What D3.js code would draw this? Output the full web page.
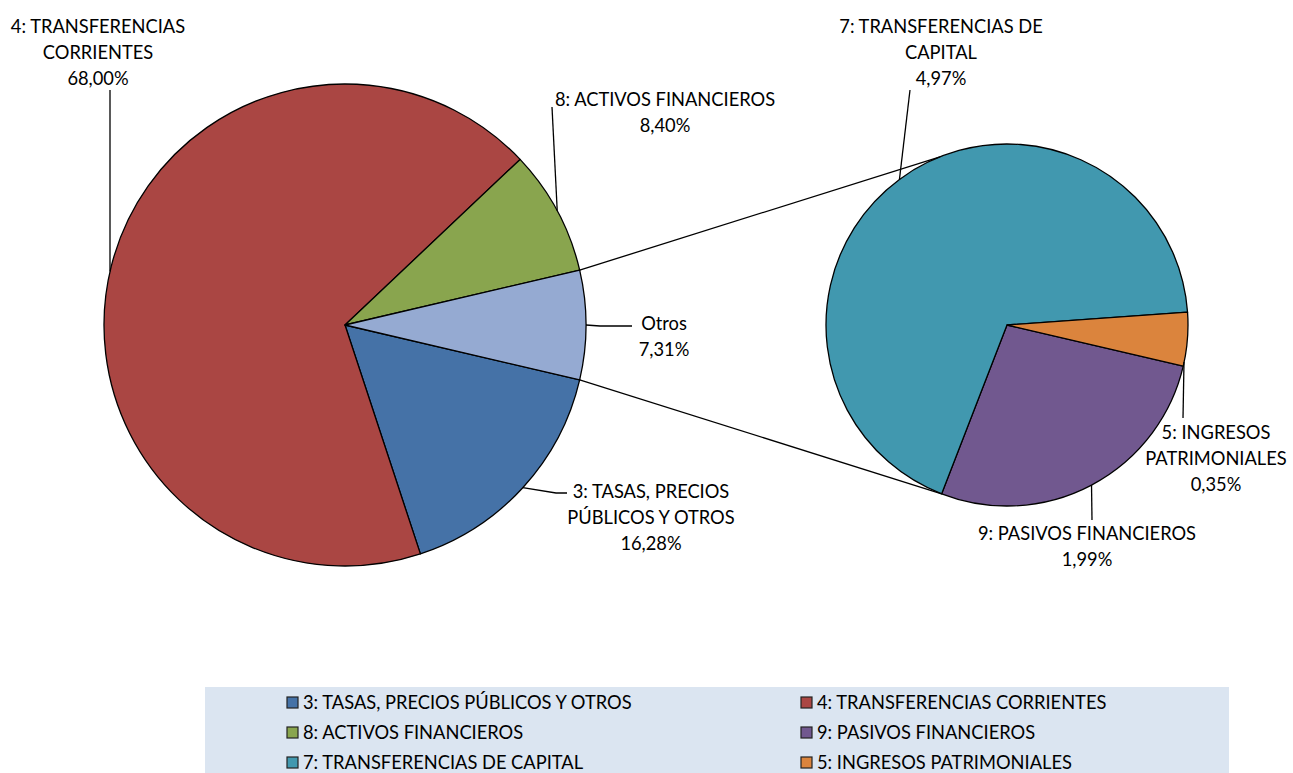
<!DOCTYPE html>
<html>
<head>
<meta charset="utf-8">
<script src="https://cdn.jsdelivr.net/npm/d3@7"></script>
<style>
  body { margin: 0; background: #fff; }
  svg { font-family: Lato, "Open Sans", sans-serif; }
</style>
</head>
<body>
<svg id="chart" width="1293" height="773"></svg>
<script>
// main pie: the last group is "Otros", broken out in the second pie
var mainNames = ["3: TASAS, PRECIOS PÚBLICOS Y OTROS", "4: TRANSFERENCIAS CORRIENTES", "8: ACTIVOS FINANCIEROS", "Otros"];
var mainValues = [16.28, 68.00, 8.40, 7.31];
var mainColors = ["#4572A7", "#AA4643", "#89A54E", "#95AAD2"];

var subNames = ["9: PASIVOS FINANCIEROS", "7: TRANSFERENCIAS DE CAPITAL", "5: INGRESOS PATRIMONIALES"];
var subValues = [1.99, 4.97, 0.35];
var subColors = ["#71588F", "#4198AF", "#DB843D"];

var legendNames = ["3: TASAS, PRECIOS PÚBLICOS Y OTROS", "4: TRANSFERENCIAS CORRIENTES", "8: ACTIVOS FINANCIEROS",
  "9: PASIVOS FINANCIEROS", "7: TRANSFERENCIAS DE CAPITAL", "5: INGRESOS PATRIMONIALES"];
var legendColors = ["#4572A7", "#AA4643", "#89A54E", "#71588F", "#4198AF", "#DB843D"];

var fmt = function (v) { return v.toFixed(2).replace(".", ",") + "%"; };

var svg = d3.select("#chart");
var fontSize = "18.3px";

var main = { cx: 345, cy: 325, r: 241 };
var sub = { cx: 1007, cy: 325, r: 181 };

var otrosShare = mainValues[3] / d3.sum(mainValues);
var startA = Math.PI / 2 + otrosShare * Math.PI;

var mainPie = d3.pie().sort(null).startAngle(startA).endAngle(startA + 2 * Math.PI);
var subPie = d3.pie().sort(null).startAngle(startA).endAngle(startA + 2 * Math.PI);

var mainArcs = mainPie(mainValues);
var subArcs = subPie(subValues);

var arcMain = d3.arc().innerRadius(0).outerRadius(main.r);
var arcSub = d3.arc().innerRadius(0).outerRadius(sub.r);

function pt(c, r, a) {
  return [c.cx + r * Math.sin(a), c.cy - r * Math.cos(a)];
}

var gMain = svg.append("g").attr("transform", "translate(" + main.cx + "," + main.cy + ")");
gMain.selectAll("path")
  .data(mainArcs)
  .enter()
  .append("path")
  .attr("d", arcMain)
  .attr("fill", function (d, i) { return mainColors[i]; })
  .attr("stroke", "#000")
  .attr("stroke-width", 1.3)
  .attr("stroke-linejoin", "round");

var gSub = svg.append("g").attr("transform", "translate(" + sub.cx + "," + sub.cy + ")");
gSub.selectAll("path")
  .data(subArcs)
  .enter()
  .append("path")
  .attr("d", arcSub)
  .attr("fill", function (d, i) { return subColors[i]; })
  .attr("stroke", "#000")
  .attr("stroke-width", 1.3)
  .attr("stroke-linejoin", "round");

// connector lines between "Otros" and the second pie
var otros = mainArcs[3];
var subEdge = subArcs[0].endAngle;
var conn = [
  [pt(main, main.r, otros.startAngle), pt(sub, sub.r, Math.PI - subEdge - 0.01)],
  [pt(main, main.r, otros.endAngle), pt(sub, sub.r, subEdge)]
];
svg.selectAll("line.conn")
  .data(conn)
  .enter()
  .append("line")
  .attr("class", "conn")
  .attr("x1", function (d) { return d[0][0]; })
  .attr("y1", function (d) { return d[0][1]; })
  .attr("x2", function (d) { return d[1][0]; })
  .attr("y2", function (d) { return d[1][1]; })
  .attr("stroke", "#000")
  .attr("stroke-width", 1.3);

// data labels: text lines, label centre, leader end point
function mid(a) { return (a.startAngle + a.endAngle) / 2; }

var labels = [
  { lines: ["4: TRANSFERENCIAS", "CORRIENTES"], v: mainValues[1], x: 98, y: 27,
    from: [110, 90], to: [110, main.cy - Math.sqrt(main.r * main.r - (110 - main.cx) * (110 - main.cx))] },
  { lines: ["8: ACTIVOS FINANCIEROS"], v: mainValues[2], x: 665, y: 100,
    from: [552, 107], to: pt(main, main.r, mid(mainArcs[2])) },
  { lines: ["Otros"], v: mainValues[3], x: 664, y: 324,
    from: [632, 326], to: [586, 325], elbow: [600, 326] },
  { lines: ["3: TASAS, PRECIOS", "PÚBLICOS Y OTROS"], v: mainValues[0], x: 651, y: 492,
    from: [567, 493], to: pt(main, main.r, mid(mainArcs[0])), elbow: [556, 493] },
  { lines: ["7: TRANSFERENCIAS DE", "CAPITAL"], v: subValues[1], x: 941, y: 27,
    from: [910, 90], to: pt(sub, sub.r, mid(subArcs[1])) },
  { lines: ["5: INGRESOS", "PATRIMONIALES"], v: subValues[2], x: 1216, y: 433,
    from: [1183, 418], to: [1184, 362] },
  { lines: ["9: PASIVOS FINANCIEROS"], v: subValues[0], x: 1087, y: 534,
    from: [1092, 520], to: pt(sub, sub.r, mid(subArcs[0])) }
];

labels.forEach(function (l) {
  var p = [l.from];
  if (l.elbow) p.push(l.elbow);
  p.push(l.to);
  svg.append("path")
    .attr("d", d3.line()(p))
    .attr("fill", "none")
    .attr("stroke", "#000")
    .attr("stroke-width", 1.3);
  var all = l.lines.concat([fmt(l.v)]);
  var t = svg.append("text")
    .attr("text-anchor", "middle")
    .attr("font-size", fontSize)
    .attr("fill", "#000");
  all.forEach(function (s, i) {
    t.append("tspan")
      .attr("x", l.x)
      .attr("y", l.y + 6 + i * 26)
      .text(s);
  });
});

// legend
svg.append("rect")
  .attr("x", 205)
  .attr("y", 687)
  .attr("width", 1024)
  .attr("height", 90)
  .attr("fill", "#DBE5F1");

var leg = svg.selectAll("g.leg")
  .data(legendNames)
  .enter()
  .append("g")
  .attr("class", "leg")
  .attr("transform", function (d, i) {
    var col = i % 2, row = Math.floor(i / 2);
    return "translate(" + (col ? 801 : 287) + "," + (703 + row * 30) + ")";
  });
leg.append("rect")
  .attr("x", 0)
  .attr("y", -6)
  .attr("width", 11)
  .attr("height", 11)
  .attr("fill", function (d, i) { return legendColors[i]; })
  .attr("stroke", "#222")
  .attr("stroke-width", 1.2);
leg.append("text")
  .attr("x", 16)
  .attr("y", 6)
  .attr("font-size", fontSize)
  .attr("fill", "#000")
  .text(function (d) { return d; });
</script>
</body>
</html>
